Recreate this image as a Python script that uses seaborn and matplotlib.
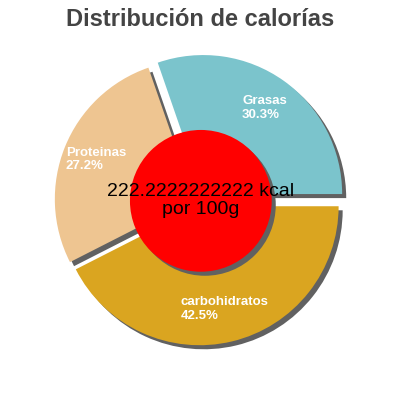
import matplotlib
matplotlib.use("Agg")
import matplotlib.pyplot as plt
import matplotlib.patches as mpatches
import seaborn as sns

# Data
categories = ["Grasas", "Proteinas", "carbohidratos"]
percentages = [30.3, 27.2, 42.5]
colors = ["#7bc4cc", "#eec591", "#daa520"]
explode = [0.06, 0.035, 0.04]
title = "Distribución de calorías"
center_text = "222.2222222222 kcal\npor 100g"

sns.set_theme(style="white")
plt.rcParams["font.family"] = ["Liberation Sans", "DejaVu Sans"]

fig = plt.figure(figsize=(4, 4), dpi=100)
ax = fig.add_axes([0, 0, 1, 1])

labels = [f"{c}\n{p}%" for c, p in zip(categories, percentages)]
shadow_color = "#616161"
wedges, texts = ax.pie(
    percentages,
    labels=labels,
    colors=colors,
    explode=explode,
    startangle=0,
    counterclock=True,
    radius=1.0,
    labeldistance=0.76,
    shadow={"ox": 0.021, "oy": -0.021, "facecolor": shadow_color,
            "edgecolor": "none", "alpha": 1.0},
    wedgeprops={"linewidth": 0, "antialiased": True},
    textprops={"color": "white", "fontweight": "bold", "fontsize": 9.5,
               "ha": "center", "va": "center", "multialignment": "left",
               "linespacing": 1.15},
)

# Center circle with shadow
circ = mpatches.Circle((0.018, 0.0), 0.51, facecolor="#ff0000",
                       edgecolor="none", zorder=5)
ax.add_patch(circ)
sh = mpatches.Shadow(circ, 0.021, -0.021, facecolor=shadow_color,
                     edgecolor="none", alpha=1.0)
ax.add_patch(sh)

ax.text(0.018, 0.0, center_text, ha="center", va="center", fontsize=14,
        color="black", linespacing=1.1, zorder=6)

ax.set_aspect("auto")
ax.set_xlim(-1.427, 1.451)
ax.set_ylim(-1.433, 1.445)
ax.axis("off")

fig.text(0.5, 0.951, title, ha="center", va="center", fontsize=17,
         fontweight="bold", color="#444444")

fig.savefig("out.png", dpi=100, facecolor="white")
